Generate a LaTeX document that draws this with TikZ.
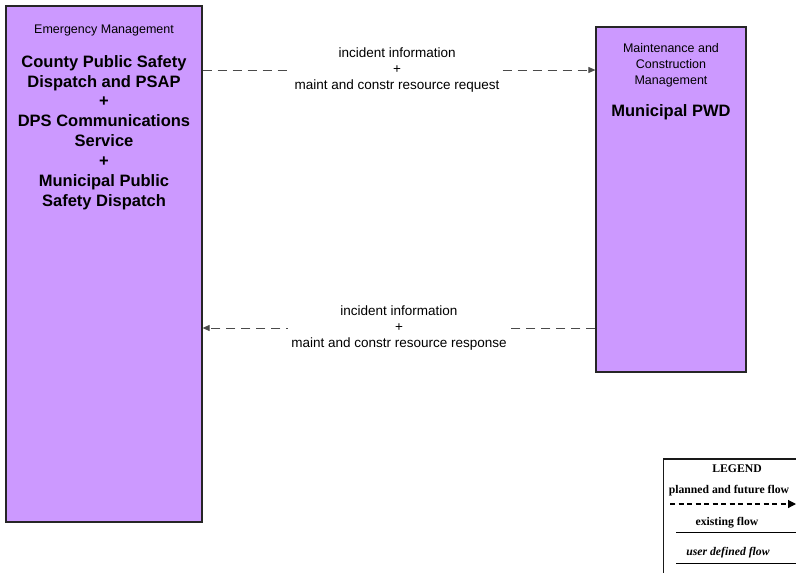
\documentclass[tikz,border=0pt]{standalone}
\usepackage{fontspec}
\setmainfont{Liberation Sans}
\newfontfamily\legendfont{Liberation Serif}
\usetikzlibrary{arrows.meta}
\definecolor{boxfill}{HTML}{CC99FF}
\definecolor{flowgray}{HTML}{4A4A4A}
\tikzset{
  x=1pt, y=-1pt,
  archbox/.style={draw=black!85, line width=1.2pt, fill=boxfill, inner sep=0pt},
  smalltitle/.style={font=\fontsize{12.5}{16}\selectfont, align=center, inner sep=0pt},
  bigtitle/.style={font=\fontsize{16.5}{19.9}\selectfont\bfseries, align=center, inner sep=0pt},
  flowlabel/.style={font=\fontsize{13.5}{16.3}\selectfont, align=center, fill=white, inner sep=3pt},
  flow/.style={draw=flowgray, line width=0.9pt, dash pattern=on 9pt off 6pt, -{Triangle[length=7pt,width=6pt]}},
  legtext/.style={font=\legendfont\fontsize{11.7}{13}\selectfont\bfseries, inner sep=0pt},
}
\begin{document}
\begin{tikzpicture}
\useasboundingbox (0,0) rectangle (796,573);
\clip (0,0) rectangle (796,573);
% boxes
\node[archbox, minimum width=196pt, minimum height=516pt] (em) at (104,264) {};
\node[archbox, minimum width=150pt, minimum height=345pt] (pwd) at (671,199.5) {};
% left titles
\node[smalltitle] (emcat) at (104,30) {Emergency Management};
\node[bigtitle] (emname) at (104,132.5) {County Public Safety\\Dispatch and PSAP\\+\\DPS Communications\\Service\\+\\Municipal Public\\Safety Dispatch};
% right titles
\node[smalltitle] (pwdcat) at (671,65) {Maintenance and\\Construction\\Management};
\node[bigtitle] (pwdname) at (671,112) {Municipal PWD};
% flows
\coordinate (r1) at (0,70);
\coordinate (r2) at (0,328);
\draw[flow] (em.east |- r1) -- node[flowlabel, pos=0.495] (lab1) {incident information\\+\\maint and constr resource request} (pwd.west |- r1);
\draw[flow] (pwd.west |- r2) -- node[flowlabel, pos=0.5] (lab2) {incident information\\+\\maint and constr resource response} (em.east |- r2);
% legend
\coordinate (lgtl) at (663.5,459);
\coordinate (lgbl) at (663.5,580);
\coordinate (lgtr) at (800,459);
\draw[black!90, line width=1.5pt] (lgbl) -- (lgtl) -- (lgtr);
\node[legtext] (lgtitle) at (737,469) {LEGEND};
\node[legtext] (lgplan) at (729,491) {planned and future flow};
\coordinate (lp1) at (670,504);
\coordinate (lp2) at (796,504);
\draw[black, line width=1.2pt, dash pattern=on 5pt off 3.5pt, -{Triangle[length=8pt,width=8pt]}] (lp1) -- (lp2);
\node[legtext] (lgexist) at (727,523) {existing flow};
\coordinate (le1) at (676,532.5);
\coordinate (le2) at (800,532.5);
\draw[black, line width=1.3pt] (le1) -- (le2);
\node[legtext, font=\legendfont\fontsize{11.7}{13}\selectfont\bfseries\itshape] (lguser) at (728,553) {user defined flow};
\coordinate (lu1) at (676,563.5);
\coordinate (lu2) at (800,563.5);
\draw[black, line width=1.3pt] (lu1) -- (lu2);
\end{tikzpicture}
\end{document}
